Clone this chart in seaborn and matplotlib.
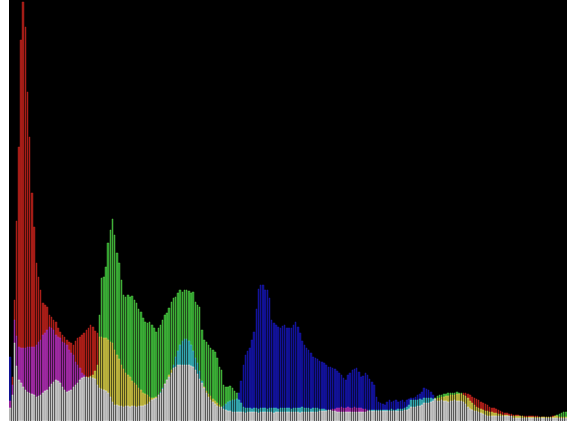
import matplotlib
matplotlib.use("Agg")
import matplotlib.pyplot as plt
import matplotlib.colors as mcolors
import pandas as pd
import seaborn as sns

# Per-bin pixel counts for each colour channel (256 intensity bins)
red = [
    20, 44, 121, 200, 274, 381, 419, 394, 329, 284, 228, 194, 158, 144, 131, 118,
    116, 114, 106, 104, 101, 99, 93, 89, 86, 84, 81, 79, 78, 76, 80, 83,
    84, 86, 88, 91, 93, 96, 94, 90, 88, 84, 84, 83, 83, 81, 79, 78,
    71, 66, 62, 56, 52, 48, 46, 44, 40, 38, 36, 33, 31, 28, 27, 26,
    24, 23, 23, 24, 26, 28, 32, 37, 41, 46, 51, 53, 54, 56, 56, 56,
    56, 56, 56, 55, 54, 51, 47, 42, 38, 34, 30, 27, 25, 22, 20, 18,
    16, 14, 12, 11, 10, 10, 9, 9, 9, 9, 9, 9, 8, 9, 9, 9,
    9, 9, 8, 9, 9, 9, 9, 9, 9, 8, 9, 9, 9, 9, 9, 9,
    9, 9, 9, 9, 9, 8, 9, 9, 9, 9, 9, 9, 9, 9, 10, 10,
    10, 10, 11, 11, 12, 12, 13, 13, 14, 13, 13, 14, 13, 13, 14, 13,
    13, 13, 12, 12, 11, 10, 10, 10, 10, 10, 10, 10, 10, 10, 10, 10,
    10, 10, 10, 10, 10, 11, 11, 12, 14, 14, 14, 15, 15, 16, 18, 18,
    18, 19, 20, 22, 23, 23, 24, 24, 25, 25, 26, 26, 26, 27, 27, 27,
    28, 28, 27, 26, 24, 23, 22, 21, 19, 18, 17, 16, 14, 13, 13, 12,
    11, 10, 9, 8, 8, 7, 7, 6, 6, 6, 5, 5, 5, 5, 5, 5,
    5, 5, 5, 4, 4, 4, 4, 4, 4, 5, 5, 5, 4, 4, 4, 4,
]
green = [
    13, 26, 78, 55, 41, 38, 34, 31, 29, 28, 27, 26, 24, 25, 26, 28,
    30, 31, 34, 37, 39, 41, 40, 38, 34, 31, 29, 30, 31, 34, 36, 38,
    41, 43, 44, 44, 44, 45, 46, 50, 56, 106, 143, 144, 154, 178, 191, 202,
    186, 168, 158, 141, 126, 124, 126, 124, 125, 121, 118, 112, 109, 103, 99, 98,
    99, 96, 93, 89, 93, 96, 101, 106, 108, 113, 119, 123, 124, 128, 131, 129,
    131, 131, 130, 128, 129, 119, 116, 114, 91, 81, 79, 76, 73, 71, 69, 63,
    54, 51, 36, 34, 34, 35, 33, 30, 28, 21, 18, 14, 13, 13, 13, 12,
    13, 13, 12, 13, 13, 13, 12, 13, 13, 13, 13, 12, 13, 13, 13, 13,
    13, 12, 13, 13, 13, 13, 14, 13, 13, 13, 12, 13, 13, 13, 12, 12,
    12, 11, 11, 11, 10, 10, 9, 9, 9, 9, 9, 9, 9, 9, 9, 9,
    9, 9, 9, 9, 10, 11, 11, 11, 11, 11, 11, 11, 11, 11, 11, 12,
    11, 11, 12, 12, 12, 13, 14, 16, 21, 21, 21, 21, 22, 21, 23, 23,
    23, 23, 22, 23, 25, 26, 26, 27, 27, 28, 28, 28, 28, 29, 28, 28,
    26, 25, 23, 20, 18, 16, 14, 13, 12, 11, 10, 10, 9, 9, 8, 8,
    7, 7, 6, 6, 6, 5, 5, 5, 5, 5, 5, 5, 4, 4, 4, 4,
    4, 4, 4, 4, 4, 4, 4, 4, 4, 4, 5, 6, 7, 8, 9, 9,
]
blue = [
    64, 36, 101, 85, 74, 73, 73, 73, 74, 74, 74, 74, 76, 79, 81, 86,
    88, 91, 94, 93, 91, 86, 84, 83, 79, 78, 76, 71, 68, 66, 59, 56,
    53, 48, 46, 44, 43, 44, 43, 42, 36, 33, 32, 31, 30, 28, 24, 19,
    16, 16, 15, 15, 14, 15, 15, 14, 15, 15, 14, 15, 15, 15, 16, 17,
    19, 21, 22, 23, 26, 29, 33, 37, 41, 44, 48, 56, 64, 70, 76, 80,
    82, 82, 80, 76, 70, 63, 58, 50, 40, 33, 28, 24, 21, 19, 17, 15,
    14, 14, 15, 17, 19, 20, 21, 21, 22, 28, 40, 56, 66, 70, 73, 81,
    89, 112, 132, 136, 136, 131, 131, 123, 101, 98, 96, 94, 93, 95, 96, 93,
    93, 93, 96, 99, 94, 88, 80, 76, 73, 71, 68, 64, 63, 62, 60, 59,
    58, 56, 54, 54, 53, 52, 50, 48, 46, 43, 41, 46, 48, 51, 52, 53,
    49, 44, 45, 48, 46, 42, 39, 36, 24, 19, 18, 17, 16, 19, 21, 19,
    20, 21, 19, 20, 21, 19, 21, 22, 23, 23, 24, 26, 27, 29, 33, 32,
    31, 29, 26, 22, 20, 20, 21, 20, 20, 19, 20, 20, 21, 20, 20, 20,
    19, 17, 14, 12, 11, 10, 10, 9, 8, 7, 6, 5, 5, 5, 5, 5,
    5, 5, 5, 5, 5, 5, 5, 3, 3, 3, 3, 3, 3, 3, 3, 3,
    3, 3, 3, 3, 3, 3, 3, 3, 3, 3, 3, 3, 3, 3, 3, 3,
]

channels = ["R", "G", "B"]

# Additive mixing: single channel, pairs of channels, all three
fill = {
    "R": "#9c1a14",
    "G": "#2a962a",
    "B": "#0e0e88",
    "RG": "#aaa236",
    "RB": "#902294",
    "GB": "#2a949c",
    "RGB": "#a4a4a4",
}
edge = {
    "R": "#c0241e",
    "G": "#5cd44c",
    "B": "#1a1ab4",
    "RG": "#dcd24c",
    "RB": "#b436b8",
    "GB": "#46c6ce",
    "RGB": "#f4f4f4",
}

rows = []
for i, vals in enumerate(zip(red, green, blue)):
    top, mid, low = sorted(range(3), key=lambda k: vals[k], reverse=True)
    pair = "".join(sorted([channels[top], channels[mid]], key="RGB".index))
    rows.append({"bin": i, "layer": "top", "count": vals[top],
                 "base": vals[mid], "shade": channels[top]})
    rows.append({"bin": i, "layer": "mid", "count": vals[mid],
                 "base": vals[low], "shade": pair})
    rows.append({"bin": i, "layer": "low", "count": vals[low],
                 "base": 0, "shade": "RGB"})
hist = pd.DataFrame(rows)

fig = plt.figure(figsize=(5.67, 4.21), dpi=100, facecolor="white")
ax = fig.add_axes([9 / 567, 0, 558 / 567, 1])
ax.set_facecolor("black")

bins = list(range(256))
lookup = {mcolors.to_hex(c): k for k, c in fill.items()}
for layer in ["top", "mid", "low"]:
    part = hist[hist["layer"] == layer].set_index("bin")
    start = len(ax.patches)
    sns.barplot(
        data=part.reset_index(),
        x="bin", y="count", hue="shade",
        order=bins, hue_order=list(fill), palette=fill,
        dodge=False, saturation=1, width=0.68,
        errorbar=None, legend=False, linewidth=0, ax=ax,
    )
    # each band starts where the band below it ends, so the bands stack
    for patch in ax.patches[start:]:
        key = lookup.get(mcolors.to_hex(patch.get_facecolor()))
        if key is None:
            continue
        b = int(round(patch.get_x() + patch.get_width() / 2))
        base = part.loc[b, "base"]
        patch.set_y(base)
        patch.set_height(part.loc[b, "count"] - base)
        patch.set_edgecolor(edge[key])
        patch.set_linewidth(0.3)

ax.set_xlim(-0.5, 255.5)
ax.set_ylim(0, 421)
ax.set_xticks([])
ax.set_yticks([])
ax.set_xlabel("")
ax.set_ylabel("")
for spine in ax.spines.values():
    spine.set_visible(False)

fig.savefig("out.png", dpi=100, facecolor="white")
